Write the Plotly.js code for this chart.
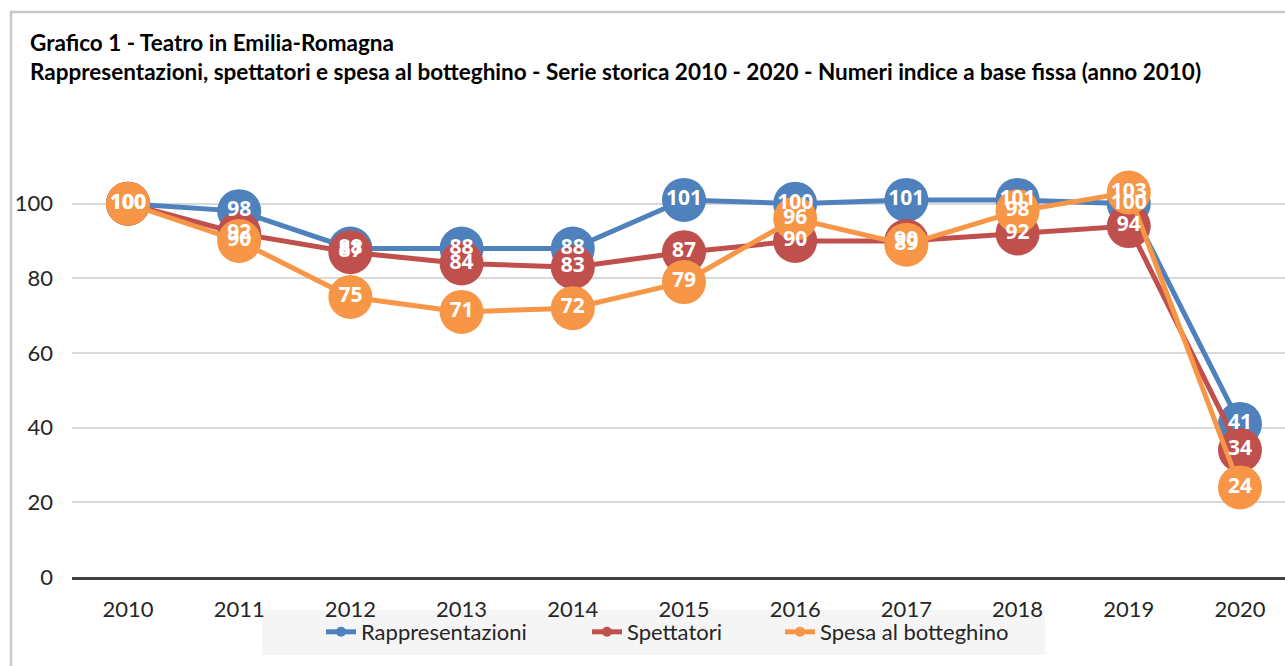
<!DOCTYPE html>
<html>
<head>
<meta charset="utf-8">
<script src="https://cdn.plot.ly/plotly-3.0.1.min.js"></script>
<style>html,body{margin:0;padding:0;background:#fff;overflow:hidden}#chart{width:1285px;height:666px}</style>
</head>
<body>
<div id="chart"></div>
<script>
const years = [2010, 2011, 2012, 2013, 2014, 2015, 2016, 2017, 2018, 2019, 2020];
const rappresentazioni = [100, 98, 88, 88, 88, 101, 100, 101, 101, 100, 41];
const spettatori = [100, 92, 87, 84, 83, 87, 90, 90, 92, 94, 34];
const spesaBotteghino = [100, 90, 75, 71, 72, 79, 96, 89, 98, 103, 24];
const seriesNames = ['Rappresentazioni', 'Spettatori', 'Spesa al botteghino'];
const seriesColors = ['#4f81bd', '#c0504d', '#f79646'];
const yTicks = [0, 20, 40, 60, 80, 100];
const titleLine1 = 'Grafico 1 - Teatro in Emilia-Romagna';
const titleLine2 = 'Rappresentazioni, spettatori e spesa al botteghino - Serie storica 2010 - 2020 - Numeri indice a base fissa (anno 2010)';

const seriesValues = [rappresentazioni, spettatori, spesaBotteghino];
const legendIds = ['legend', 'legend2', 'legend3'];
const txtFont = 'Lato, "Liberation Sans", Arial, sans-serif';

const traces = [];
// lines + markers
seriesValues.forEach((vals, i) => {
  traces.push({
    x: years, y: vals, type: 'scatter', mode: 'lines+markers',
    name: seriesNames[i], showlegend: false, hoverinfo: 'skip',
    line: {color: seriesColors[i], width: 5},
    marker: {color: seriesColors[i], size: 44}
  });
});
// data labels on top of every marker
seriesValues.forEach((vals, i) => {
  traces.push({
    x: years, y: vals, type: 'scatter', mode: 'text',
    text: vals.map(v => String(v)), textposition: 'middle center',
    textfont: {family: '"Open Sans", Lato, sans-serif', size: 21, color: '#ffffff', weight: 700},
    showlegend: false, hoverinfo: 'skip'
  });
});
// legend entries
seriesValues.forEach((vals, i) => {
  traces.push({
    x: [null], y: [null], type: 'scatter', mode: 'lines+markers',
    name: seriesNames[i], legend: legendIds[i], showlegend: true,
    line: {color: seriesColors[i], width: 5},
    marker: {color: seriesColors[i], size: 10}
  });
});

const W = 1285, H = 666, L = 72, R = 0, T = 129, B = 89;
const pw = W - L - R, ph = H - T - B;
const px2x = p => (p - L) / pw;
const py2y = p => (H - B - p) / ph;

const legendText = {family: txtFont, size: 22, color: '#262626'};
const legendXs = [321, 587, 780];
const legends = {};
legendIds.forEach((id, i) => {
  legends[id] = {
    x: px2x(legendXs[i]), xanchor: 'left', xref: 'paper',
    y: py2y(632), yanchor: 'middle', yref: 'paper',
    orientation: 'h', bgcolor: 'rgba(0,0,0,0)', borderwidth: 0,
    font: legendText
  };
});

const layout = Object.assign({
  width: W, height: H,
  margin: {l: L, r: R, t: T, b: B, autoexpand: false},
  paper_bgcolor: '#ffffff', plot_bgcolor: '#ffffff',
  showlegend: true,
  title: {
    text: titleLine1 + '<br>' + titleLine2,
    x: 30 / W, xref: 'container', xanchor: 'left',
    y: 1 - 51 / H, yref: 'container', yanchor: 'top',
    font: {family: txtFont, size: 22.5, color: '#000000', weight: 700}
  },
  xaxis: {
    range: [2009.4964, 2020.405], tickvals: years, ticktext: years.map(String),
    showgrid: false, zeroline: false, showline: true, linecolor: '#404040', linewidth: 3,
    ticks: '', ticklabelstandoff: 11,
    tickfont: {family: txtFont, size: 22, color: '#262626'}, fixedrange: true
  },
  yaxis: {
    range: [0, 120], tickvals: yTicks, ticktext: yTicks.map(String),
    showgrid: true, gridcolor: '#d9d9d9', gridwidth: 2, zeroline: false, showline: false,
    ticks: '', ticklabelstandoff: 18,
    tickfont: {family: txtFont, size: 22, color: '#262626'}, fixedrange: true
  },
  shapes: [
    {type: 'rect', xref: 'paper', yref: 'paper', x0: px2x(11), x1: px2x(1400), y0: py2y(800), y1: py2y(12),
     line: {color: '#c8c8c8', width: 2.5}, fillcolor: 'rgba(0,0,0,0)', layer: 'below'},
    {type: 'rect', xref: 'paper', yref: 'paper', x0: px2x(262), x1: px2x(1045), y0: py2y(655), y1: py2y(610),
     line: {width: 0}, fillcolor: '#f5f5f5', layer: 'below'}
  ]
}, legends);

Plotly.newPlot('chart', traces, layout, {displayModeBar: false, staticPlot: true});
</script>
</body>
</html>
